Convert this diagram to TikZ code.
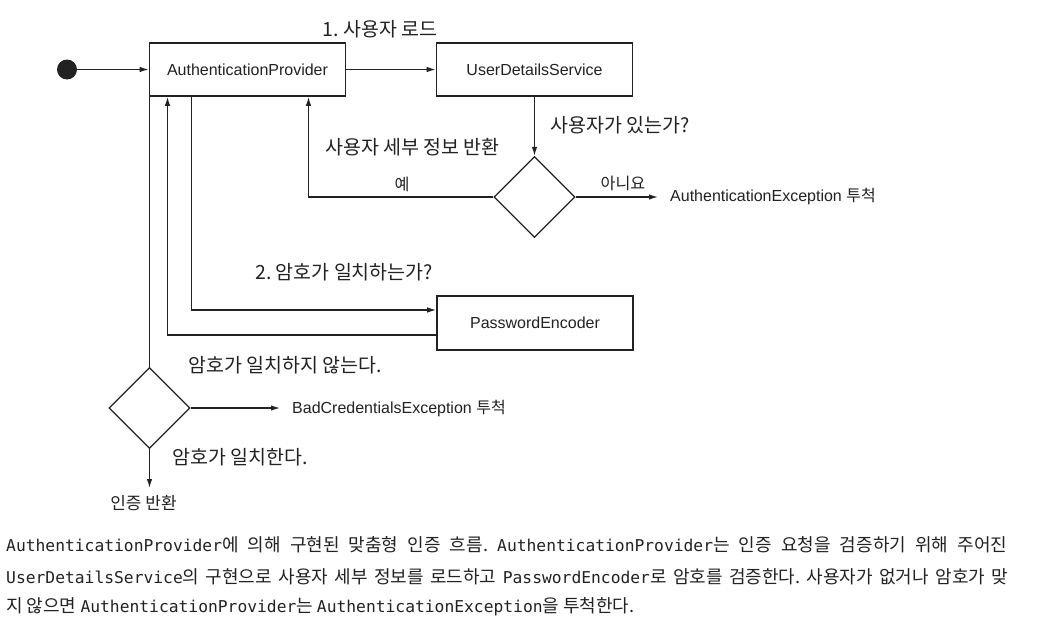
\documentclass[tikz,border=0pt]{standalone}
\usepackage{fontspec}
\setmainfont{Liberation Sans}
\setmonofont{DejaVu Sans Mono}
\newfontfamily\krfont{Noto Sans CJK KR}
\usetikzlibrary{shapes.geometric,arrows.meta}
\definecolor{ink}{HTML}{222222}
\newcommand{\mn}[1]{{\ttfamily\fontsize{16.3}{20}\selectfont #1}}
\frenchspacing
\begin{document}
\begin{tikzpicture}[x=1pt,y=-1pt,
  every node/.style={text=ink},
  box/.style={draw=ink,line width=1.6pt,rectangle,minimum width=196pt,minimum height=53pt,inner sep=0pt,font=\fontsize{16}{19}\selectfont},
  dia/.style={draw=ink,line width=1.3pt,diamond,minimum size=81pt,inner sep=0pt},
  conn/.style={draw=ink,line width=1.3pt},
  arr/.style={conn,-{Latex[length=9pt,width=5.5pt]}},
  lbl/.style={inner sep=0pt,font=\krfont\fontsize{19.5}{22}\selectfont},
  slbl/.style={inner sep=0pt,font=\krfont\fontsize{16.2}{19}\selectfont},
  exc/.style={inner sep=0pt,font=\fontsize{16}{19}\selectfont},
  captxt/.style={inner sep=0pt,anchor=west,font=\krfont\fontsize{18}{21}\selectfont}
]
\useasboundingbox (0,0) rectangle (1047,624);
\fill[white] (0,0) rectangle (1047,624);

% nodes
\node[circle,fill=ink,minimum size=20pt,inner sep=0pt] (start) at (67,69.5) {};
\node[box] (ap) at (247.5,69.5) {AuthenticationProvider};
\node[box] (uds) at (534.5,69.5) {UserDetailsService};
\node[box,minimum height=54pt] (pe) at (535,323) {PasswordEncoder};
\node[dia] (d1) at (534.5,197) {};
\node[dia] (d2) at (149.5,408) {};

\coordinate (cyes) at (308.5,0);
\coordinate (cret) at (167.5,0);
\coordinate (cgo) at (191.5,0);
\coordinate (noEnd) at (658,197);
\coordinate (bcEnd) at (280,408);
\coordinate (authEnd) at (149.5,488);

% connectors
\draw[arr] (start) -- (ap.west);
\draw[arr] (ap.east) -- (uds.west);
\draw[arr] (uds.south) -- (d1.north);
\draw[arr] (d1.west) -| (cyes |- ap.south);
\draw[arr] (d1.east) -- (noEnd);
\draw[arr] (cgo |- ap.south) |- ([yshift=13pt]pe.west);
\draw[arr] ([yshift=-12pt]pe.west) -| (cret |- ap.south);
\draw[conn] (d2.north |- ap.south) -- (d2.north);
\draw[arr] (d2.east) -- (bcEnd);
\draw[arr] (d2.south) -- (authEnd);

% labels
\node[lbl] (l1) at (380,29) {1. 사용자 로드};
\node[lbl,anchor=west] (lexist) at (550,125) {사용자가 있는가?};
\node[lbl,anchor=west] (lret) at (325,147) {사용자 세부 정보 반환};
\node[slbl] (lyes) at (402,184) {예};
\node[slbl] (lno) at (623,183) {아니요};
\node[exc,anchor=west] (lae) at (670,197) {AuthenticationException {\krfont 투척}};
\node[lbl,anchor=west] (l2) at (255,272) {2. 암호가 일치하는가?};
\node[lbl,anchor=west] (lnomatch) at (188,365) {암호가 일치하지 않는다.};
\node[exc,anchor=west] (lbc) at (292,409) {BadCredentialsException {\krfont 투척}};
\node[lbl,anchor=west] (lmatch) at (172,457) {암호가 일치한다.};
\node[slbl,font=\krfont\fontsize{17}{20}\selectfont] (lauth) at (143.5,503) {인증 반환};

% caption
\node[captxt] (c1) at (6,545) {\makebox[1001pt][s]{\mn{AuthenticationProvider}에 의해 구현된 맞춤형 인증 흐름. \mn{AuthenticationProvider}는 인증 요청을 검증하기 위해 주어진}};
\node[captxt] (c2) at (6,577) {\makebox[1002pt][s]{\mn{UserDetailsService}의 구현으로 사용자 세부 정보를 로드하고 \mn{PasswordEncoder}로 암호를 검증한다. 사용자가 없거나 암호가 맞}};
\node[captxt] (c3) at (6,607) {지 않으면 \mn{AuthenticationProvider}는 \mn{AuthenticationException}을 투척한다.};
\end{tikzpicture}
\end{document}
